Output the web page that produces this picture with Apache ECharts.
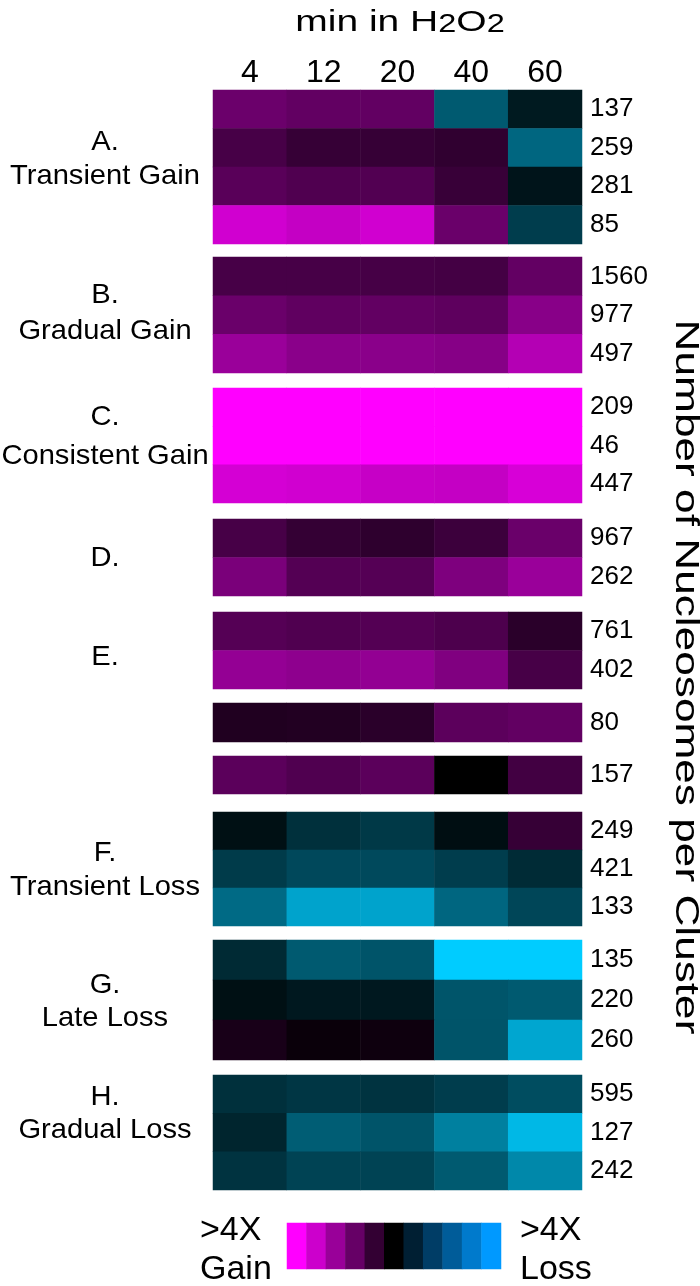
<!DOCTYPE html>
<html>
<head>
<meta charset="utf-8">
<script src="https://cdn.jsdelivr.net/npm/echarts@6/dist/echarts.min.js"></script>
<style>html,body{margin:0;padding:0;background:#fff}#c{width:700px;height:1286px}</style>
</head>
<body>
<div id="c"></div>
<script>
// ---- data (log2 fold change: + = gain, - = loss) ----
const timepoints = ['4', '12', '20', '40', '60'];

const transientGainCounts = ['137', '259', '281', '85'];
const transientGainValues = [
  [0.84, 0.77, 0.77, -0.88, -0.25],
  [0.56, 0.42, 0.42, 0.38, -1.00],
  [0.70, 0.63, 0.64, 0.44, -0.20],
  [1.63, 1.54, 1.63, 0.83, -0.60]
];
const gradualGainCounts = ['1560', '977', '497'];
const gradualGainValues = [
  [0.56, 0.56, 0.55, 0.53, 0.78],
  [0.83, 0.75, 0.77, 0.74, 1.07],
  [1.21, 1.08, 1.08, 1.05, 1.41]
];
const consistentGainCounts = ['209', '46', '447'];
const consistentGainValues = [
  [2.0, 2.0, 2.0, 2.0, 2.0],
  [2.0, 2.0, 2.0, 2.0, 2.0],
  [1.66, 1.63, 1.55, 1.54, 1.69]
];
const clusterDCounts = ['967', '262'];
const clusterDValues = [
  [0.56, 0.41, 0.36, 0.47, 0.83],
  [0.96, 0.66, 0.67, 0.99, 1.21]
];
const clusterECounts = ['761', '402'];
const clusterEValues = [
  [0.67, 0.63, 0.66, 0.60, 0.33],
  [1.16, 1.11, 1.15, 1.00, 0.56]
];
const cluster80Counts = ['80'];
const cluster80Values = [[0.25, 0.27, 0.33, 0.72, 0.77]];
const cluster157Counts = ['157'];
const cluster157Values = [[0.71, 0.63, 0.71, 0.0, 0.52]];
const transientLossCounts = ['249', '421', '133'];
const transientLossValues = [
  [-0.16, -0.47, -0.56, -0.14, 0.42],
  [-0.58, -0.71, -0.72, -0.60, -0.42],
  [-1.04, -1.60, -1.60, -1.00, -0.69]
];
const lateLossCounts = ['135', '220', '260'];
const lateLossValues = [
  [-0.41, -0.88, -0.82, -2.0, -2.0],
  [-0.16, -0.24, -0.24, -0.83, -0.88],
  [0.19, 0.08, 0.11, -0.82, -1.63]
];
const gradualLossCounts = ['595', '127', '242'];
const gradualLossValues = [
  [-0.47, -0.53, -0.50, -0.60, -0.75],
  [-0.36, -0.91, -0.82, -1.25, -1.80],
  [-0.50, -0.66, -0.66, -0.88, -1.33]
];
const legendSteps = [5, 4, 3, 2, 1, 0, -1, -2, -3, -4, -5];

const groupLabels = [
  ['A.', 'Transient Gain'], ['B.', 'Gradual Gain'], ['C.', 'Consistent Gain'],
  ['D.'], ['E.'], [], [], ['F.', 'Transient Loss'], ['G.', 'Late Loss'], ['H.', 'Gradual Loss']
];

// ---- layout ----
const groups = [
  [transientGainCounts, transientGainValues],
  [gradualGainCounts, gradualGainValues],
  [consistentGainCounts, consistentGainValues],
  [clusterDCounts, clusterDValues],
  [clusterECounts, clusterEValues],
  [cluster80Counts, cluster80Values],
  [cluster157Counts, cluster157Values],
  [transientLossCounts, transientLossValues],
  [lateLossCounts, lateLossValues],
  [gradualLossCounts, gradualLossValues]
];
const tops = [90, 257, 388, 519, 612, 703, 756, 812, 940, 1075];
const heights = [154, 116, 115, 77, 77, 39, 38, 114, 120, 115];
const labelY = [[142, 176], [295, 331], [417, 456], [558], [657], [], [], [853, 887], [985, 1018], [1097, 1130]];
const FONT = 'Liberation Sans, Arial, sans-serif';

const grid = [], xAxis = [], yAxis = [], series = [];
groups.forEach((g, i) => {
  const counts = g[0], vals = g[1];
  grid.push({left: 213, width: 369, top: tops[i], height: heights[i], containLabel: false});
  xAxis.push({
    type: 'category', gridIndex: i, data: timepoints, position: 'top',
    show: i === 0, axisLine: {show: false}, axisTick: {show: false}, splitLine: {show: false},
    axisLabel: {fontSize: 32, fontFamily: FONT, color: '#000', margin: 1}
  });
  yAxis.push({
    type: 'category', gridIndex: i, data: counts, inverse: true, position: 'right',
    axisLine: {show: false}, axisTick: {show: false}, splitLine: {show: false},
    axisLabel: {fontSize: 26, fontFamily: FONT, color: '#000', margin: 8}
  });
  const data = [];
  vals.forEach((row, r) => row.forEach((v, c) => data.push([c, r, v])));
  series.push({
    type: 'heatmap', xAxisIndex: i, yAxisIndex: i, data: data,
    emphasis: {disabled: true}, itemStyle: {borderWidth: 0}, progressive: 0
  });
});
// legend colour bar
const li = groups.length;
grid.push({left: 287, width: 214, top: 1223, height: 46});
xAxis.push({type: 'category', gridIndex: li, data: legendSteps.map(String), show: false});
yAxis.push({type: 'category', gridIndex: li, data: ['scale'], show: false});
series.push({
  type: 'heatmap', xAxisIndex: li, yAxisIndex: li,
  data: legendSteps.map((v, i) => [i, 0, v]), emphasis: {disabled: true}
});

const graphic = [];
function txt(x, y, text, size, opts) {
  opts = opts || {};
  graphic.push({
    type: 'text', x: x, y: y, rotation: opts.rotation || 0,
    scaleX: opts.scaleX || 1, scaleY: opts.scaleY || 1,
    style: {
      text: text, x: 0, y: 0, fontSize: size, fontFamily: FONT, fill: '#000',
      align: opts.align || 'center', verticalAlign: 'middle', rich: opts.rich
    }
  });
}
// title
txt(400, 21, '{a|min in H}{b|2}{a|O}{b|2}', 30, {
  scaleX: 1.3,
  rich: {
    a: {fontSize: 30, fontFamily: FONT, lineHeight: 34, verticalAlign: 'bottom', fill: '#000'},
    b: {fontSize: 25, fontFamily: FONT, lineHeight: 34, verticalAlign: 'bottom', fill: '#000'}
  }
});
groupLabels.forEach((lines, i) => {
  lines.forEach((s, k) => txt(105, labelY[i][k], s, 28, {scaleX: 1.04}));
});
// right axis title
txt(685, 677, 'Number of Nucleosomes per Cluster', 34, {rotation: -Math.PI / 2, scaleX: 1.3});
// legend texts
txt(200, 1231, '>4X', 34, {align: 'left'});
txt(200, 1270, 'Gain', 34, {align: 'left'});
txt(520, 1231, '>4X', 34, {align: 'left'});
txt(520, 1270, 'Loss', 34, {align: 'left'});

const chart = echarts.init(document.getElementById('c'), null, {renderer: 'canvas'});
chart.setOption({
  animation: false,
  backgroundColor: '#fff',
  grid: grid, xAxis: xAxis, yAxis: yAxis, series: series,
  visualMap: [
    {type: 'continuous', show: false, seriesIndex: groups.map((_, i) => i), min: -2, max: 2,
     inRange: {color: ['#00ccff', '#000000', '#ff00ff']}},
    {type: 'continuous', show: false, seriesIndex: li, min: -5, max: 5,
     inRange: {color: ['#0099ff', '#000000', '#ff00ff']}}
  ],
  graphic: graphic
});
</script>
</body>
</html>
